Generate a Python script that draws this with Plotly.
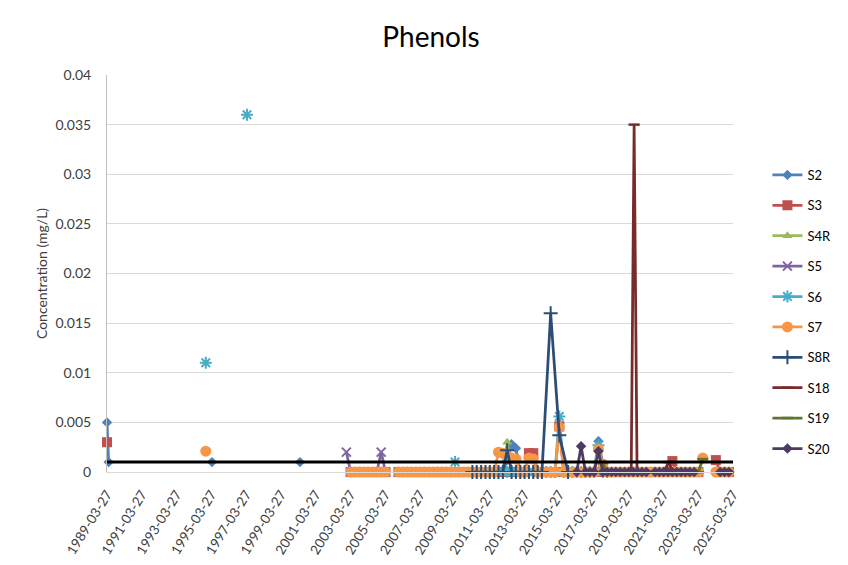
import plotly.graph_objects as go

N = None
NA = "#N/A"   # sample not taken: skipped but line stays connected (like Excel #N/A)

# ---------------- data ----------------
series_names = ["S2", "S3", "S4R", "S5", "S6", "S7", "S8R", "S18", "S19", "S20"]

quarter_dates = [
    "2003-01", "2003-04", "2003-07", "2003-10",
    "2004-01", "2004-04", "2004-07", "2004-10",
    "2005-01", "2005-04", "2005-07", "2005-10",
    "2006-01", "2006-04", "2006-07", "2006-10",
    "2007-01", "2007-04", "2007-07", "2007-10",
    "2008-01", "2008-04", "2008-07", "2008-10",
    "2009-01", "2009-04", "2009-07", "2009-10",
    "2010-01", "2010-04", "2010-07", "2010-10",
    "2011-01", "2011-04", "2011-07", "2011-10",
    "2012-01", "2012-04", "2012-07", "2012-10",
    "2013-01", "2013-04", "2013-07", "2013-10",
    "2014-01", "2014-04", "2014-07", "2014-10",
    "2015-01", "2015-04", "2015-07", "2015-10",
    "2016-01", "2016-04", "2016-07", "2016-10",
    "2017-01", "2017-04", "2017-07", "2017-10",
    "2018-01", "2018-04", "2018-07", "2018-10",
    "2019-01", "2019-04", "2019-07", "2019-10",
    "2020-01", "2020-04", "2020-07", "2020-10",
    "2021-01", "2021-04", "2021-07", "2021-10",
    "2022-01", "2022-04", "2022-07", "2022-10",
    "2023-01", "2023-04", "2023-07", "2023-10",
    "2024-01", "2024-04", "2024-07", "2024-10",
    "2025-01", "2025-04",
]

# irregular (early) samples
S2_dates = ["1989-03-27", "1989-05-01", "1992-01-01", "1995-04-10", "1998-01-01", "2000-05-01"]
S2_vals = [0.005, 0.001, N, 0.001, N, 0.001]
S3_dates = ["1989-03-27"]
S3_vals = [0.003]
S6_dates = ["1994-12-01", "1996-01-01", "1997-04-14"]
S6_vals = [0.011, N, 0.036]
S7_dates = ["1994-12-01"]
S7_vals = [0.0021]
S18_dates = ["2018-07-01", "2018-10-01", "2019-01-01", "2019-03-01", "2019-05-20", "2019-07-20",
             "2019-09-20", "2019-10-15", "2020-01-01", "2020-04-01", "2020-07-01", "2020-10-01",
             "2021-01-01", "2021-04-01", "2021-07-15", "2021-10-01", "2022-01-01"]
S18_vals = [0, 0, 0, 0, 0, 0.035, 0, 0, 0, 0, 0, 0, 0, 0, 0.001, 0, 0]

# quarterly samples (rows = years 2003 ... 2025)
S2_q = [
    N, N, N, N,  N, N, N, N,  N, N, N, N,            # 2003-2005
    N, N, N, N,  N, N, N, N,  N, N, N, N,            # 2006-2008
    N, N, N, N,  N, N, N, N,                         # 2009-2010
    0, 0, 0, 0,                                      # 2011
    0, 0.0012, 0.0028, 0.0024,                       # 2012
    0, 0, 0, 0,  0, 0, 0, 0,  0, 0, 0, 0,            # 2013-2015
    0, 0, 0, 0,                                      # 2016
    0, 0, 0.0031, 0.0008,                            # 2017
    0, 0, 0, 0,                                      # 2018
    0, N, N, N,                                      # 2019
    N, N, N, N,  N, N, N, N,  N, N, N, N,            # 2020-2022
    N, N, N, N,  N, N, N, N,                         # 2023-2024
    N, N,                                            # 2025
]
S3_q = [
    N, 0, 0, 0,  0, 0, 0, 0,  0, 0, N, N,            # 2003-2005
    0, 0, 0, 0,  0, 0, 0, 0,  0, 0, 0, 0,            # 2006-2008
    0, 0, 0, 0,  0, 0, 0, 0,                         # 2009-2010
    0, 0, 0, 0,                                      # 2011
    0, 0, 0, 0,                                      # 2012
    0, 0, 0.0019, 0.0019,                            # 2013
    0, 0, 0, 0,                                      # 2014
    0, 0.0046, 0, 0,                                 # 2015
    0, 0, 0, 0,                                      # 2016
    0, 0, 0, 0,                                      # 2017
    0, 0, 0, 0,                                      # 2018
    0, 0, 0, 0,                                      # 2019
    0, 0, 0, 0,                                      # 2020
    0, 0, 0, 0.0011,                                 # 2021
    0, 0, 0, 0,                                      # 2022
    0, 0, N, N,                                      # 2023
    N, 0.0012, 0, 0,                                 # 2024
    0, 0,                                            # 2025
]
S4R_q = [
    N, N, N, N,  N, N, N, N,  N, N, N, N,            # 2003-2005
    N, N, N, N,  N, N, N, N,  N, N, N, N,            # 2006-2008
    N, N, N, N,  N, N, N, 0,                         # 2009-2010
    0, 0, 0, 0,                                      # 2011
    0, 0.003, 0, 0,                                  # 2012
    0, 0, 0, 0,  0, 0, 0, 0,  0, 0, 0, 0,            # 2013-2015
    0, 0, 0, 0,                                      # 2016
    0, 0, 0, 0,                                      # 2017
    0, N, N, N,                                      # 2018
    N, N, N, N,                                      # 2019
    N, N, N, N,  N, N, N, N,  N, N, N, N,            # 2020-2022
    N, N, N, N,  N, N, N, N,                         # 2023-2024
    N, N,                                            # 2025
]
S5_q = [
    0.002, 0, 0, 0,                                  # 2003
    0, 0, 0, 0,                                      # 2004
    0.002, 0, N, N,                                  # 2005
    0, 0, 0, 0,  0, 0, 0, 0,  0, 0, 0, 0,            # 2006-2008
    0, 0, 0, 0,  0, 0, 0, 0,                         # 2009-2010
    0, 0, 0, N,                                      # 2011
    N, N, N, N,                                      # 2012
    N, N, N, N,  N, N, N, N,  N, N, N, N,            # 2013-2015
    N, N, N, N,  N, N, N, N,  N, N, N, N,            # 2016-2018
    N, N, N, N,                                      # 2019
    N, N, N, N,  N, N, N, N,  N, N, N, N,            # 2020-2022
    N, N, N, N,  N, N, N, N,                         # 2023-2024
    N, N,                                            # 2025
]
S6_q = [
    N, N, N, N,  N, N, N, N,  N, N, N, N,            # 2003-2005
    N, N, N, N,  N, N, N, N,  N, N, N, N,            # 2006-2008
    N, 0.001, N, N,                                  # 2009
    N, N, N, N,                                      # 2010
    N, 0, 0, 0,                                      # 2011
    0, 0, 0, 0,                                      # 2012
    0, 0, 0, 0,  0, 0, 0, 0,                         # 2013-2014
    0, 0.0056, 0, 0,                                 # 2015
    0, 0, 0, 0,                                      # 2016
    0, 0, 0.0027, 0,                                 # 2017
    0, N, N, N,                                      # 2018
    N, N, N, N,                                      # 2019
    N, N, N, N,  N, N, N, N,  N, N, N, N,            # 2020-2022
    N, N, N, N,  N, N, N, N,                         # 2023-2024
    N, N,                                            # 2025
]
S7_q = [
    N, 0, 0, 0,  0, 0, 0, 0,  0, 0, N, N,            # 2003-2005
    0, 0, 0, 0,  0, 0, 0, 0,  0, 0, 0, 0,            # 2006-2008
    0, 0, 0, 0,  0, 0, 0, 0,                         # 2009-2010
    0, 0, 0, 0.002,                                  # 2011
    0.0019, 0.0016, 0.0014, 0.0013,                  # 2012
    0, 0, 0.0014, 0.0013,                            # 2013
    0, 0, 0, 0,                                      # 2014
    0, 0.0045, 0, 0,                                 # 2015
    0, 0, 0, 0,                                      # 2016
    0, 0, 0.0023, 0.0008,                            # 2017
    0, 0, 0, 0,                                      # 2018
    0, 0, 0, 0,                                      # 2019
    0, 0, 0, 0,  0, 0, 0, 0,  0, 0, 0, 0,            # 2020-2022
    0, 0, 0.0014, N,                                 # 2023
    N, 0, 0, 0,                                      # 2024
    0, 0,                                            # 2025
]
S8R_q = [
    N, N, N, N,  N, N, N, N,  N, N, N, N,            # 2003-2005
    N, N, N, N,  N, N, N, N,  N, N, N, N,            # 2006-2008
    N, N, N, N,                                      # 2009
    N, 0, 0, 0,                                      # 2010
    0, 0, 0, 0,                                      # 2011
    0, 0.0022, 0, 0,                                 # 2012
    0, 0, 0, 0,                                      # 2013
    0, 0, NA, 0.016,                                 # 2014
    NA, 0.0037, NA, 0,                               # 2015
    N, N, N, N,  N, N, N, N,  N, N, N, N,            # 2016-2018
    N, N, N, N,                                      # 2019
    N, N, N, N,  N, N, N, N,  N, N, N, N,            # 2020-2022
    N, N, N, N,  N, N, N, N,                         # 2023-2024
    N, N,                                            # 2025
]
S19_q = [
    N, N, N, N,  N, N, N, N,  N, N, N, N,            # 2003-2005
    N, N, N, N,  N, N, N, N,  N, N, N, N,            # 2006-2008
    N, N, N, N,  N, N, N, N,                         # 2009-2010
    N, N, N, N,  N, N, N, N,  N, N, N, N,            # 2011-2013
    N, N, N, N,  N, N, N, N,  N, N, N, N,            # 2014-2016
    N, N, 0.001, 0.0009,                             # 2017
    0, 0, 0, 0,                                      # 2018
    0, 0, 0, 0,                                      # 2019
    0, 0, 0, 0,  0, 0, 0, 0,  0, 0, 0, 0,            # 2020-2022
    0, 0, 0.0013, N,                                 # 2023
    N, N, N, N,                                      # 2024
    N, N,                                            # 2025
]
S20_q = [
    N, N, N, N,  N, N, N, N,  N, N, N, N,            # 2003-2005
    N, N, N, N,  N, N, N, N,  N, N, N, N,            # 2006-2008
    N, N, N, N,  N, N, N, N,                         # 2009-2010
    N, N, N, N,  N, N, N, N,  N, N, N, N,            # 2011-2013
    N, N, N, N,  N, N, N, N,                         # 2014-2015
    N, 0, 0.0026, 0,                                 # 2016
    0, 0, 0.0021, 0,                                 # 2017
    0, 0, 0, 0,                                      # 2018
    0, 0, 0, 0,                                      # 2019
    0, 0, N, 0,                                      # 2020
    0, 0, 0, 0,                                      # 2021
    0, 0, 0, 0,                                      # 2022
    0, N, N, N,                                      # 2023
    N, N, 0, 0,                                      # 2024
    0, 0,                                            # 2025
]

guide_dates = ["1989-03-27", "2025-03-27"]
guide_vals = [0.001, 0.001]

x_range = ["1989-03-27", "2025-03-27"]
y_ticks = [0, 0.005, 0.01, 0.015, 0.02, 0.025, 0.03, 0.035, 0.04]

for q in (S2_q, S3_q, S4R_q, S5_q, S6_q, S7_q, S8R_q, S19_q, S20_q):
    assert len(q) == len(quarter_dates), len(q)

irregular = {
    "S2": (S2_dates, S2_vals), "S3": (S3_dates, S3_vals), "S6": (S6_dates, S6_vals),
    "S7": (S7_dates, S7_vals), "S18": (S18_dates, S18_vals),
}
quarterly = {
    "S2": S2_q, "S3": S3_q, "S4R": S4R_q, "S5": S5_q, "S6": S6_q,
    "S7": S7_q, "S8R": S8R_q, "S19": S19_q, "S20": S20_q,
}

# ---------------- styles ----------------
styles = {
    "S2":  dict(color="#4F81BD", symbol="diamond", size=8, lw=0),
    "S3":  dict(color="#C0504D", symbol="square", size=10, lw=0),
    "S4R": dict(color="#9BBB59", symbol="triangle-up", size=9, lw=0),
    "S5":  dict(color="#8064A2", symbol="x-thin-open", size=9, lw=2),
    "S6":  dict(color="#4BACC6", symbol="asterisk-open", size=10, lw=2),
    "S7":  dict(color="#F79646", symbol="circle", size=11, lw=0),
    "S8R": dict(color="#2C4D75", symbol="cross-thin-open", size=10, lw=2),
    "S18": dict(color="#772C2A", symbol="line-ew-open", size=8, lw=2.5),
    "S19": dict(color="#5F7530", symbol="line-ew-open", size=8, lw=2.5),
    "S20": dict(color="#4D3B62", symbol="diamond", size=8, lw=0),
}


def build(name):
    xs, ys = [], []
    if name in irregular:
        d, v = irregular[name]
        xs += list(d)
        ys += list(v)
    if name in quarterly:
        if xs:
            xs.append("2002-06-01")
            ys.append(None)
        for d, v in zip(quarter_dates, quarterly[name]):
            if isinstance(v, str):
                continue
            xs.append(d)
            ys.append(v)
    return xs, ys


fig = go.Figure()
FONT = "Lato, 'Open Sans', sans-serif"

for name in series_names:
    xs, ys = build(name)
    st = styles[name]
    marker = dict(symbol=st["symbol"], size=st["size"], color=st["color"])
    if st["lw"]:
        marker["line"] = dict(color=st["color"], width=st["lw"])
    fig.add_trace(go.Scatter(
        x=xs, y=ys, name=name, mode="lines+markers",
        line=dict(color=st["color"], width=2.75),
        marker=marker, connectgaps=False, cliponaxis=False,
        legendgroup=name,
    ))

fig.add_trace(go.Scatter(
    x=guide_dates, y=guide_vals, mode="lines", showlegend=False,
    line=dict(color="#000000", width=3), cliponaxis=False,
))

# page has an 8px body margin: figure is 840x557 so plot sits at page px 107..733 / 75..472
W, H = 840, 557
fig.update_layout(
    width=W, height=H,
    margin=dict(l=99, r=115, t=67, b=93),
    paper_bgcolor="white", plot_bgcolor="white",
    font=dict(family=FONT, color="#404040", size=13),
    title=dict(text="Phenols", x=(431 - 8) / W, xanchor="center", xref="container",
               y=1 - 29 / H, yanchor="middle", yref="container",
               font=dict(family=FONT, size=28, color="#000000")),
    legend=dict(x=1.055, xanchor="left", y=0.786, yanchor="top",
                font=dict(family=FONT, size=13, color="#000000"),
                tracegroupgap=10.5, traceorder="grouped",
                bgcolor="rgba(0,0,0,0)"),
    showlegend=True,
)

fig.update_xaxes(
    type="date", range=x_range, tick0="1989-03-27", dtick="M24",
    tickformat="%Y-%m-%d", tickangle=-58, showgrid=False,
    showline=True, linecolor="#D9D9D9", linewidth=1, ticks="",
    ticklabelstandoff=8, automargin=False,
    tickfont=dict(family=FONT, size=13.5, color="#404040"),
)
fig.update_yaxes(
    range=[0, 0.04], tickvals=y_ticks, ticktext=[f"{v:g}" for v in y_ticks],
    showgrid=True, gridcolor="#D9D9D9", gridwidth=1,
    showline=True, linecolor="#BFBFBF", zeroline=False, ticks="",
    ticklabelstandoff=12, automargin=False,
    tickfont=dict(family=FONT, size=14, color="#404040"),
    title=dict(text="Concentration (mg/L)", standoff=4,
               font=dict(family=FONT, size=14, color="#404040")),
)

# chart-area frame line at the left edge (page x ~ 6)
fig.add_shape(type="line", xref="paper", yref="paper",
              x0=(-2 - 99) / 626, x1=(-2 - 99) / 626, y0=-93 / 397, y1=(464 + 8) / 397,
              line=dict(color="#C8C8C8", width=1))

fig.write_html("out.html")
